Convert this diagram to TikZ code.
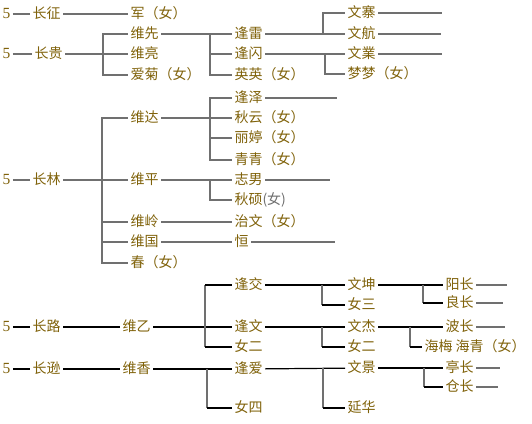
\documentclass[tikz,border=0pt]{standalone}
\usepackage{fontspec}
\setmainfont{Liberation Serif}
\newfontfamily\cjk{Noto Sans CJK SC}
\definecolor{txt}{RGB}{128,98,10}
\definecolor{ln}{RGB}{112,112,112}
\begin{document}
\begin{tikzpicture}[x=1pt,y=-1pt,
  nm/.style={anchor=west,inner sep=0pt,outer xsep=2.5pt,text height=11pt,text depth=2pt,font=\cjk\fontsize{14}{15}\selectfont,text=txt},
  num/.style={nm,font=\fontsize{15.5}{16}\selectfont},
  g/.style={draw=ln,line width=1.6pt},
  k/.style={draw=black,line width=1.2pt}]
\useasboundingbox[fill=white] (0,0) rectangle (532,423);
% ---------- numbers ----------
\node[num] (n1) at (0,14) {5};
\node[num] (n2) at (0,54) {5};
\node[num] (n3) at (0,180) {5};
\node[num] (n4) at (0,327) {5};
\node[num] (n5) at (0,369) {5};
% ---------- generation 1 ----------
\node[nm] (cz) at (30,14) {长征};
\node[nm] (cg) at (32,54) {长贵};
\node[nm] (cl) at (30,180) {长林};
\node[nm] (clu) at (30,327) {长路};
\node[nm] (cx) at (30,369) {长逊};
% ---------- generation 2 ----------
\node[nm] (jun) at (128,14) {军（女）};
\node[nm] (wx) at (128,34) {维先};
\node[nm] (wl) at (128,54) {维亮};
\node[nm] (aj) at (128,75) {爱菊（女）};
\node[nm] (wd) at (128,118) {维达};
\node[nm] (wp) at (128,180) {维平};
\node[nm] (wlg) at (128,222) {维岭};
\node[nm] (wg) at (128,242) {维国};
\node[nm] (chun) at (128,263) {春（女）};
\node[nm] (wy) at (120,327) {维乙};
\node[nm] (wxg) at (120,369) {维香};
% ---------- generation 3 ----------
\node[nm] (fl) at (232,34) {逢雷};
\node[nm] (fs) at (232,54) {逢闪};
\node[nm] (yy) at (232,75) {英英（女）};
\node[nm] (fz) at (232,98) {逢泽};
\node[nm] (qy) at (232,118) {秋云（女）};
\node[nm] (lt) at (232,138) {丽婷（女）};
\node[nm] (qq) at (232,160) {青青（女）};
\node[nm] (zn) at (232,180) {志男};
\node[nm] (qs) at (232,200) {秋硕\textcolor{ln}{(女)}};
\node[nm] (zw) at (232,222) {治文（女）};
\node[nm] (heng) at (232,242) {恒};
\node[nm] (fj) at (232,285) {逢交};
\node[nm] (fw) at (232,327) {逢文};
\node[nm] (ne) at (232,347) {女二};
\node[nm] (fa) at (232,369) {逢爱};
\node[nm] (ns) at (232,408) {女四};
% ---------- generation 4 ----------
\node[nm] (wzh) at (345,13) {文寨};
\node[nm] (wh) at (345,34) {文航};
\node[nm] (wye) at (345,54) {文業};
\node[nm] (mm) at (345,74) {梦梦（女）};
\node[nm] (wk) at (345,285) {文坤};
\node[nm] (nsan) at (345,305) {女三};
\node[nm] (wj) at (345,327) {文杰};
\node[nm] (ne2) at (345,347) {女二};
\node[nm] (wjg) at (345,368) {文景};
\node[nm] (yh) at (345,408) {延华};
% ---------- generation 5 ----------
\node[nm] (yc) at (443,285) {阳长};
\node[nm] (lc) at (443,303) {良长};
\node[nm] (bc) at (443,327) {波长};
\node[nm] (hm) at (422,347) {海梅 海青（女）};
\node[nm] (tc) at (443,368) {亭长};
\node[nm] (cc) at (443,387) {仓长};
% ---------- spine and end coordinates ----------
\coordinate (s1) at (103,54);
\coordinate (s2) at (210,34);
\coordinate (s3) at (323,34);
\coordinate (s4) at (325,54);
\coordinate (s5) at (102,180);
\coordinate (s6) at (210,118);
\coordinate (s7) at (210,180);
\coordinate (s8) at (205,327);
\coordinate (s9) at (322,285);
\coordinate (s10) at (423,285);
\coordinate (s11) at (322,327);
\coordinate (s12) at (410,327);
\coordinate (s13) at (207,369);
\coordinate (s14) at (323,368);
\coordinate (s15) at (424,368);
\coordinate (e1) at (442,13);
\coordinate (e2) at (441,34);
\coordinate (e3) at (442,54);
\coordinate (e4) at (337,98);
\coordinate (e5) at (330,180);
\coordinate (e6) at (335,242);
\coordinate (e7) at (507,285);
\coordinate (e8) at (503,303);
\coordinate (e9) at (505,327);
\coordinate (e10) at (500,368);
\coordinate (e11) at (498,387);
% ---------- connectors: top ----------
\draw[g] (n1) -- (cz);
\draw[g] (cz) -- (jun);
\draw[g] (n2) -- (cg);
\draw[g] (cg) -- (wl);
\draw[g] (s1) |- (wx.west);
\draw[g] (s1) |- (aj.west);
\draw[g] (wx) -- (fl);
\draw[g] (s2) |- (fs.west);
\draw[g] (s2) |- (yy.west);
\draw[g] (fl) -- (wh);
\draw[g] (s3) |- (wzh.west);
\draw[g] (fs) -- (wye);
\draw[g] (s4) |- (mm.west);
\draw[g] (wzh) -- (e1);
\draw[g] (wh) -- (e2);
\draw[g] (wye) -- (e3);
% ---------- connectors: middle ----------
\draw[g] (n3) -- (cl);
\draw[g] (cl) -- (wp);
\draw[g] (s5) |- (wd.west);
\draw[g] (s5) |- (wlg.west);
\draw[g] (s5) |- (wg.west);
\draw[g] (s5) |- (chun.west);
\draw[g] (wd) -- (qy);
\draw[g] (s6) |- (fz.west);
\draw[g] (s6) |- (lt.west);
\draw[g] (s6) |- (qq.west);
\draw[g] (wp) -- (zn);
\draw[g] (s7) |- (qs.west);
\draw[g] (wlg) -- (zw);
\draw[g] (wg) -- (heng);
\draw[g] (fz) -- (e4);
\draw[g] (zn) -- (e5);
\draw[g] (heng) -- (e6);
% ---------- connectors: bottom ----------
\draw[k] (n4) -- (clu);
\draw[k] (clu) -- (wy);
\draw[k] (wy) -- (fw);
\draw[g] (s8) -- (s8 |- fj.west);
\draw[g] (s8) -- (s8 |- ne.west);
\draw[k] (s8 |- fj.west) -- (fj.west);
\draw[k] (s8 |- ne.west) -- (ne.west);
\draw[k] (fj) -- (wk);
\draw[g] (s9) -- (s9 |- nsan.west);
\draw[k] (s9 |- nsan.west) -- (nsan.west);
\draw[k] (wk) -- (yc);
\draw[g] (s10) -- (s10 |- lc.west);
\draw[k] (s10 |- lc.west) -- (lc.west);
\draw[k] (fw) -- (wj);
\draw[g] (s11) -- (s11 |- ne2.west);
\draw[k] (s11 |- ne2.west) -- (ne2.west);
\draw[k] (wj) -- (bc);
\draw[g] (s12) -- (s12 |- hm.west);
\draw[k] (s12 |- hm.west) -- (hm.west);
\draw[k] (n5) -- (cx);
\draw[k] (cx) -- (wxg);
\draw[k] (wxg) -- (fa);
\draw[g] (s13) -- (s13 |- ns.west);
\draw[k] (s13 |- ns.west) -- (ns.west);
\draw[k] (fa) -- (wjg);
\draw[g] (s14) -- (s14 |- yh.west);
\draw[k] (s14 |- yh.west) -- (yh.west);
\draw[k] (wjg) -- (tc);
\draw[g] (s15) -- (s15 |- cc.west);
\draw[k] (s15 |- cc.west) -- (cc.west);
\draw[g] (yc) -- (e7);
\draw[g] (lc) -- (e8);
\draw[g] (bc) -- (e9);
\draw[g] (tc) -- (e10);
\draw[g] (cc) -- (e11);
\end{tikzpicture}
\end{document}
